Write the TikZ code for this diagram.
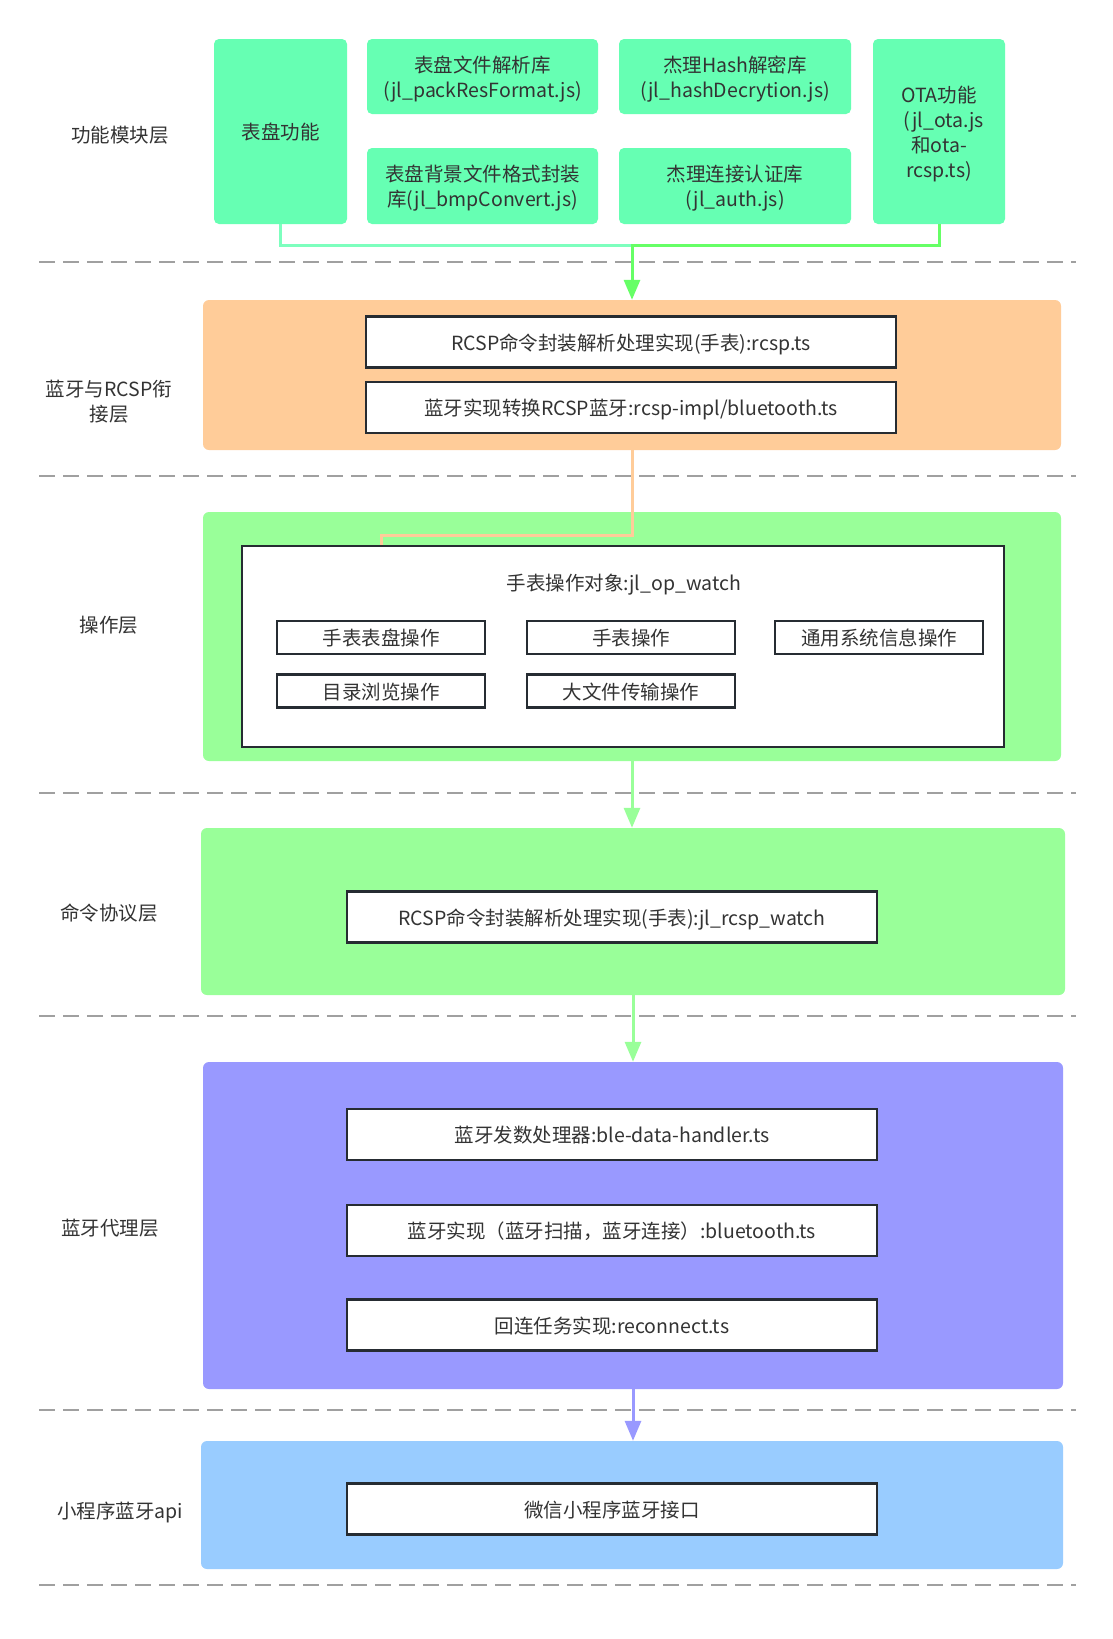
\documentclass[tikz,border=0pt]{standalone}
\usepackage{fontspec}
\setmainfont{Noto Sans CJK SC}
\usetikzlibrary{arrows.meta}
\definecolor{modgreen}{HTML}{66FFB3}
\definecolor{linkgreen}{HTML}{66FF66}
\definecolor{bridgeorange}{HTML}{FFCC99}
\definecolor{opgreen}{HTML}{99FF99}
\definecolor{proxyblue}{HTML}{9999FF}
\definecolor{apiblue}{HTML}{99CCFF}
\definecolor{sepgrey}{HTML}{A0A0A0}
\definecolor{edge}{HTML}{262C32}
\definecolor{txt}{HTML}{333333}

\begin{document}
\begin{tikzpicture}[x=1pt,y=-1pt, >={Triangle[width=16pt,length=20pt]},
 every node/.style={font=\fontsize{19.5}{25}\selectfont,text=txt,text depth=0pt},
 module/.style={fill=modgreen,rounded corners=5pt,align=center,inner sep=0pt},
 band/.style={rounded corners=6pt,inner sep=0pt},
 item/.style={draw=edge,line width=2.5pt,fill=white,inner sep=0pt,minimum width=530pt,minimum height=51pt},
 opitem/.style={item,minimum width=208pt,minimum height=33pt},
 divider/.style={sepgrey,line width=2pt,dash pattern=on 16pt off 8pt},
 wire/.style={line width=3pt}]

\fill[white] (0,0) rectangle (1112,1639);
\useasboundingbox (0,0) rectangle (1112,1639);

% layer separators
\foreach \y in {262,476,793,1016,1410,1585}
  \draw[divider] (39,\y) -- (1076,\y);

% function modules
\node[align=center] (labfunc) at (120,134) {功能模块层};
\node[module,minimum width=133pt,minimum height=185pt] (dial) at (280.5,131.5) {表盘功能};
\node[module,minimum width=231pt,minimum height=75pt] (packres) at (482.5,76.5) {表盘文件解析库\\(jl\_packResFormat.js)};
\node[module,minimum width=232pt,minimum height=75pt] (hashlib) at (735,76.5) {杰理Hash解密库\\(jl\_hashDecrytion.js)};
\node[module,minimum width=231pt,minimum height=76pt] (bmp) at (482.5,186) {表盘背景文件格式封装\\库(jl\_bmpConvert.js)};
\node[module,minimum width=232pt,minimum height=76pt] (auth) at (735,186) {杰理连接认证库\\(jl\_auth.js)};
\node[module,minimum width=132pt,minimum height=185pt] (ota) at (939,131.5) {OTA功能\\\hspace*{0.5em}(jl\_ota.js\\和ota-\\rcsp.ts)};

% bluetooth / rcsp bridge
\node[align=center] (labbridge) at (109,401) {蓝牙与RCSP衔\\接层};
\node[band,fill=bridgeorange,minimum width=858pt,minimum height=150pt] (bridge) at (632,375) {};
\node[item] (rcsp) at (631,342) {RCSP命令封装解析处理实现(手表):rcsp.ts};
\node[item] (impl) at (631,407.5) {蓝牙实现转换RCSP蓝牙:rcsp-impl/bluetooth.ts};

% operations
\node (labops) at (109,624) {操作层};
\node[band,fill=opgreen,minimum width=858pt,minimum height=249pt] (ops) at (632,636.5) {};
\node[draw=edge,line width=2.5pt,fill=white,minimum width=762pt,minimum height=201pt] (watch) at (623,646.5) {};
\node (watchtitle) at (624,582) {手表操作对象:jl\_op\_watch};
\node[opitem] (dialop) at (381,637.5) {手表表盘操作};
\node[opitem] (watchop) at (631,637.5) {手表操作};
\node[opitem] (sysop) at (879,637.5) {通用系统信息操作};
\node[opitem] (dirop) at (381,691) {目录浏览操作};
\node[opitem] (fileop) at (631,691) {大文件传输操作};

% command protocol
\node (labcmd) at (109,912) {命令协议层};
\node[band,fill=opgreen,minimum width=864pt,minimum height=167pt] (cmd) at (633,911.5) {};
\node[item] (rcspwatch) at (612,917) {RCSP命令封装解析处理实现(手表):jl\_rcsp\_watch};

% bluetooth proxy
\node (labproxy) at (110,1227) {蓝牙代理层};
\node[band,fill=proxyblue,minimum width=860pt,minimum height=327pt] (proxy) at (633,1225.5) {};
\node[item] (handler) at (612,1134.5) {蓝牙发数处理器:ble-data-handler.ts};
\node[item] (bt) at (612,1230.5) {蓝牙实现（蓝牙扫描，蓝牙连接）:bluetooth.ts};
\node[item] (recon) at (612,1325) {回连任务实现:reconnect.ts};

% mini program api
\node (labapi) at (120,1510) {小程序蓝牙api};
\node[band,fill=apiblue,minimum width=862pt,minimum height=128pt] (api) at (632,1505) {};
\node[item] (wxapi) at (612,1509) {微信小程序蓝牙接口};

% connectors
\coordinate (join) at (632,245);
\coordinate (bend) at (381,535);
\draw[wire,draw=modgreen!85!white] (dial.south) |- (join);
\draw[wire,draw=linkgreen,->] (ota.south) |- (join) -- (join |- bridge.north);
\draw[wire,draw=bridgeorange] (bridge.south) |- (bend) -- (bend |- watch.north);
\draw[wire,draw=opgreen,->] (ops.south) -- (ops.south |- cmd.north);
\draw[wire,draw=opgreen,->] (cmd.south) -- (cmd.south |- proxy.north);
\draw[wire,draw=proxyblue,->] (proxy.south) -- (proxy.south |- api.north);
\end{tikzpicture}
\end{document}
